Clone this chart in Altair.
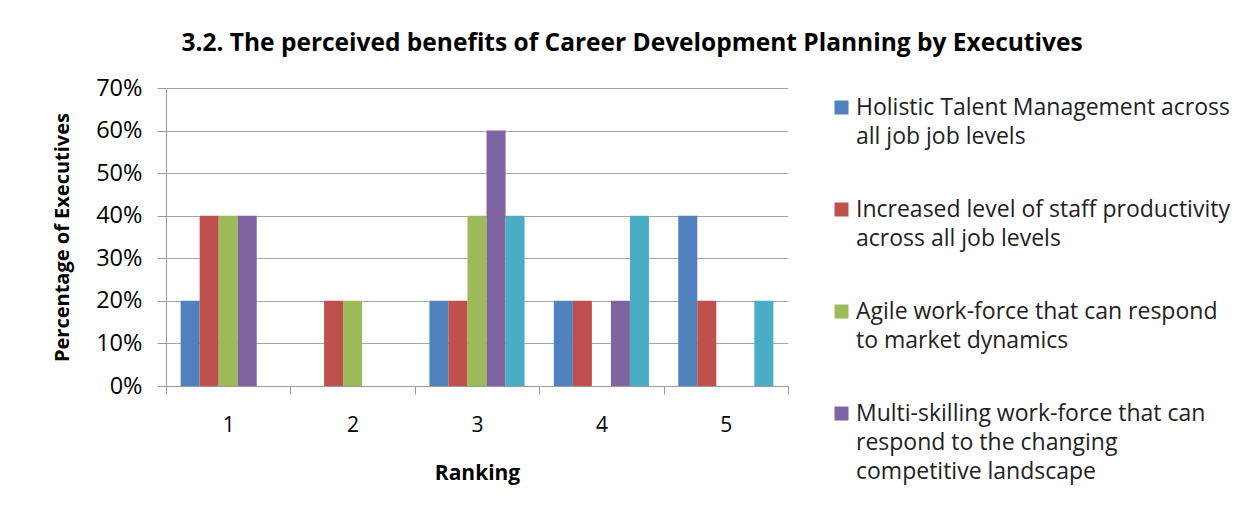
import altair as alt
import pandas as pd

rankings = ["1", "2", "3", "4", "5"]
series_names = [
    "Holistic Talent Management across all job job levels",
    "Increased level of staff productivity across  all job levels",
    "Agile work-force that can respond to market dynamics",
    "Multi-skilling work-force that can respond to the changing competitive landscape",
    "Other benefit",
]
legend_lines = {
    series_names[0]: ["Holistic Talent Management across", "all job job levels"],
    series_names[1]: ["Increased level of staff productivity", "across  all job levels"],
    series_names[2]: ["Agile work-force that can respond", "to market dynamics"],
    series_names[3]: ["Multi-skilling work-force that can", "respond to the changing", "competitive landscape"],
}
holistic = [0.20, 0.00, 0.20, 0.20, 0.40]
productivity = [0.40, 0.20, 0.20, 0.20, 0.20]
agile = [0.40, 0.20, 0.40, 0.00, 0.00]
multi_skilling = [0.40, 0.00, 0.60, 0.20, 0.00]
other = [0.00, 0.00, 0.40, 0.40, 0.20]
colors = ["#4F81BD", "#C0504D", "#9BBB59", "#8064A2", "#4BACC6"]

values_by_series = [holistic, productivity, agile, multi_skilling, other]
rows = []
for name, vals in zip(series_names, values_by_series):
    for r, v in zip(rankings, vals):
        rows.append({"Ranking": r, "series": name, "value": v})
df = pd.DataFrame(rows)

expr_parts = []
for name, lines in legend_lines.items():
    arr = "[" + ",".join("'" + l + "'" for l in lines) + "]"
    expr_parts.append(f"datum.label == '{name}' ? {arr}")
label_expr = " : ".join(expr_parts) + " : datum.label"

FONT = "Open Sans"
GRAY = "#9a9a9a"

chart = alt.Chart(df).mark_bar().encode(
    x=alt.X(
        "Ranking:N",
        sort=rankings,
        scale=alt.Scale(paddingInner=0, paddingOuter=0),
        axis=alt.Axis(
            title="Ranking", labelAngle=0, tickBand="extent", tickSize=8,
            labelPadding=20, titlePadding=27, domainColor=GRAY, tickColor=GRAY,
            labelFontSize=21, titleFontSize=21, titleFontWeight="bold", labelColor="#000", titleColor="#000",
            grid=False,
        ),
    ),
    xOffset=alt.XOffset("series:N", sort=series_names,
                        scale=alt.Scale(paddingInner=0, paddingOuter=0.77)),
    y=alt.Y(
        "value:Q",
        scale=alt.Scale(domain=[0, 0.7], nice=False),
        axis=alt.Axis(
            title="Percentage of Executives", format=".0%", values=[0, 0.1, 0.2, 0.3, 0.4, 0.5, 0.6, 0.7],
            tickSize=9, labelPadding=15, titlePadding=23, grid=True, gridColor="#a6a6a6",
            domainColor=GRAY, tickColor=GRAY,
            labelFontSize=23.5, titleFontSize=20, titleFontWeight="bold", labelColor="#000", titleColor="#000",
        ),
    ),
    color=alt.Color(
        "series:N",
        scale=alt.Scale(domain=series_names, range=colors),
        legend=alt.Legend(
            title=None, values=series_names[:4], orient="none", legendX=664, legendY=8,
            symbolType="square", symbolSize=196, symbolStrokeWidth=0, labelFontSize=23,
            labelLimit=700, labelOffset=3, rowPadding=49, labelExpr=label_expr, labelColor="#222",
        ),
    ),
).properties(
    width=622,
    height=298,
    title=alt.TitleParams(
        "3.2. The perceived benefits of Career Development Planning by Executives",
        fontSize=24.5, fontWeight="bold", anchor="middle", frame="group", dx=155, offset=20, color="#000",
    ),
    autosize=alt.AutoSizeParams(type="none"),
    padding={"left": 158, "top": 80, "right": 460, "bottom": 118},
).configure(
    font=FONT,
    style={"guide-label": {"lineHeight": 29}},
).configure_view(stroke=None)

chart.save("out.html", embed_options={"renderer": "svg", "actions": False})
